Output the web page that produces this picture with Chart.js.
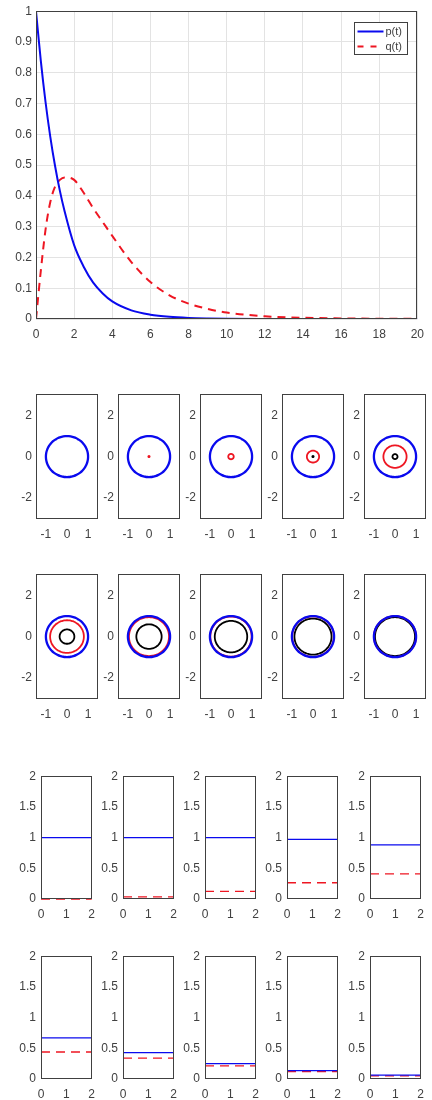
<!DOCTYPE html>
<html>
<head>
<meta charset="utf-8">
<script src="https://cdn.jsdelivr.net/npm/chart.js@4.4.0/dist/chart.umd.min.js"></script>
<style>
  html, body { margin: 0; padding: 0; background: #fff; }
  body { position: relative; width: 432px; height: 1100px; overflow: hidden; }
  canvas { position: absolute; }
</style>
</head>
<body>
<script>
// top plot: p(t) and q(t)
const tGrid   = [0, 0.25, 0.5, 0.75, 1, 1.25, 1.5, 2, 2.5, 3, 3.5, 4, 5, 6, 7, 8, 9, 10, 12, 14, 16, 18, 20];
const pValues = [1, 0.84, 0.705, 0.592, 0.497, 0.417, 0.35, 0.24, 0.17, 0.118, 0.083, 0.057, 0.028, 0.014, 0.007, 0.0035, 0.0018, 0.0009, 0.0002, 0, 0, 0, 0];
const qValues = [0, 0.155, 0.29, 0.38, 0.43, 0.452, 0.46, 0.452, 0.41, 0.36, 0.315, 0.27, 0.185, 0.12, 0.077, 0.05, 0.033, 0.021, 0.009, 0.004, 0.002, 0.001, 0.001];
const seriesNames = ['p(t)', 'q(t)'];
const topXTicks = [0, 2, 4, 6, 8, 10, 12, 14, 16, 18, 20];
const topYTicks = [0, 0.1, 0.2, 0.3, 0.4, 0.5, 0.6, 0.7, 0.8, 0.9, 1];

// ten snapshots: circle radii and level lines
const blueRadii  = [1, 1, 1, 1, 1, 1, 1, 1, 1, 1];
const redRadii   = [0, 0.03, 0.13, 0.29, 0.55, 0.8, 0.95, 0.98, 0.99, 1.0];
const blackRadii = [0, 0, 0, 0.03, 0.12, 0.35, 0.6, 0.77, 0.88, 0.95];
const sumLevels  = [1.0, 1.0, 1.0, 0.97, 0.88, 0.67, 0.43, 0.25, 0.135, 0.063];
const qLevels    = [0.0, 0.036, 0.125, 0.265, 0.41, 0.44, 0.34, 0.215, 0.12, 0.052];
const circleXTicks = [-1, 0, 1];
const circleYTicks = [-2, 0, 2];
const levelXTicks = [0, 1, 2];
const levelYTicks = [0, 0.5, 1, 1.5, 2];

const BLUE = '#0a0aee';
const RED = '#ee1622';
const INK = '#404040';

Chart.defaults.font.family = '"Liberation Sans", Arial, sans-serif';
Chart.defaults.font.size = 12;
Chart.defaults.color = INK;

const framePlugin = {
  id: 'frame',
  afterDraw(chart) {
    const { ctx, chartArea: a } = chart;
    ctx.save();
    ctx.strokeStyle = INK;
    ctx.lineWidth = 1;
    ctx.strokeRect(Math.round(a.left) + 0.5, Math.round(a.top) + 0.5,
      Math.round(a.right - a.left) - 1, Math.round(a.bottom - a.top) - 1);
    ctx.restore();
  }
};

const insetLegend = {
  id: 'insetLegend',
  afterDraw(chart) {
    const { ctx, chartArea: a } = chart;
    const w = 53, h = 32;
    const x = Math.round(a.right) - 10 - w + 0.5;
    const y = Math.round(a.top) + 11 + 0.5;
    ctx.save();
    ctx.fillStyle = '#fff';
    ctx.fillRect(x, y, w, h);
    ctx.strokeStyle = INK;
    ctx.lineWidth = 1;
    ctx.strokeRect(x, y, w, h);
    chart.data.datasets.forEach((ds, i) => {
      const ly = y + 9 + i * 15;
      ctx.beginPath();
      ctx.strokeStyle = ds.borderColor;
      ctx.lineWidth = 2;
      ctx.setLineDash(i === 0 ? [] : [6, 7]);
      ctx.moveTo(x + 3, ly);
      ctx.lineTo(x + 29, ly);
      ctx.stroke();
      ctx.setLineDash([]);
      ctx.fillStyle = INK;
      ctx.font = '11px "Liberation Sans", Arial, sans-serif';
      ctx.textBaseline = 'middle';
      ctx.fillText(ds.label, x + 31, ly);
    });
    ctx.restore();
  }
};

function axis(min, max, ticks, size, pad, grid, isX) {
  return {
    type: 'linear',
    min, max,
    afterBuildTicks: (s) => { s.ticks = ticks.map((v) => ({ value: v })); },
    afterFit: (s) => { if (isX) s.height = size; else s.width = size; },
    grid: { display: grid, color: '#e3e3e3', drawTicks: false },
    border: { display: false },
    ticks: { padding: pad, autoSkip: false, maxRotation: 0, callback: (v) => String(v) }
  };
}

function makeChart(box, pad, datasets, scales, plugins) {
  const canvas = document.createElement('canvas');
  const w = pad.l + box.width + pad.r;
  const h = pad.t + box.height + pad.b;
  canvas.width = w;
  canvas.height = h;
  canvas.style.left = (box.left - pad.l) + 'px';
  canvas.style.top = (box.top - pad.t) + 'px';
  canvas.style.width = w + 'px';
  canvas.style.height = h + 'px';
  document.body.appendChild(canvas);
  return new Chart(canvas, {
    type: 'scatter',
    data: { datasets },
    options: {
      responsive: false,
      animation: false,
      devicePixelRatio: 1,
      layout: { padding: { top: pad.t, right: pad.r, left: 0, bottom: 0 } },
      plugins: { legend: { display: false }, tooltip: { enabled: false } },
      elements: { point: { radius: 0 } },
      scales
    },
    plugins: [framePlugin].concat(plugins || [])
  });
}

function ring(r) {
  const pts = [];
  for (let k = 0; k <= 72; k++) {
    const ang = (k / 72) * 2 * Math.PI;
    pts.push({ x: r * Math.cos(ang), y: r * Math.sin(ang) });
  }
  return pts;
}

// top chart
makeChart(
  { left: 36, top: 11, width: 389, height: 308 },
  { l: 36, t: 11, r: 7, b: 26 },
  [
    {
      label: seriesNames[0],
      data: tGrid.map((t, i) => ({ x: t, y: pValues[i] })),
      showLine: true, borderColor: BLUE, borderWidth: 2,
      cubicInterpolationMode: 'monotone', pointRadius: 0
    },
    {
      label: seriesNames[1],
      data: tGrid.map((t, i) => ({ x: t, y: qValues[i] })),
      showLine: true, borderColor: RED, borderWidth: 2, borderDash: [8, 6],
      cubicInterpolationMode: 'monotone', pointRadius: 0
    }
  ],
  {
    x: axis(0, 20, topXTicks, 26, 8, true, true),
    y: axis(0, 1, topYTicks, 36, 4, true, false)
  },
  [insetLegend]
);

// circle snapshots
const circleLefts = [36, 118, 200, 282, 364];
const circleTops = [391, 571];
for (let k = 0; k < 10; k++) {
  const sets = [];
  [[blueRadii[k], BLUE, 2.3], [redRadii[k], RED, 1.8], [blackRadii[k], '#000', 1.8]].forEach(([r, col, lw]) => {
    if (r > 0) {
      sets.push({
        data: ring(r), showLine: true, borderColor: col, borderWidth: lw,
        tension: 0.3, pointRadius: 0, borderCapStyle: 'round'
      });
    }
  });
  makeChart(
    { left: circleLefts[k % 5], top: circleTops[Math.floor(k / 5)], width: 62, height: 128 },
    { l: 24, t: 8, r: 6, b: 24 },
    sets,
    {
      x: axis(-1.47, 1.47, circleXTicks, 24, 8, false, true),
      y: axis(-3.05, 3.05, circleYTicks, 24, 4, false, false)
    }
  );
}

// level snapshots
const levelLefts = [41, 123, 205, 287, 370];
const levelTops = [772, 952];
for (let k = 0; k < 10; k++) {
  makeChart(
    { left: levelLefts[k % 5], top: levelTops[Math.floor(k / 5)], width: 56, height: 127 },
    { l: 28, t: 8, r: 6, b: 24 },
    [
      {
        data: [{ x: 0, y: sumLevels[k] }, { x: 2, y: sumLevels[k] }],
        showLine: true, borderColor: BLUE, borderWidth: 1.3, pointRadius: 0, clip: 4
      },
      {
        data: [{ x: 0, y: qLevels[k] }, { x: 2, y: qLevels[k] }],
        showLine: true, borderColor: RED, borderWidth: 1.3, borderDash: [9, 6], pointRadius: 0, clip: 4
      }
    ],
    {
      x: axis(0, 2, levelXTicks, 24, 8, false, true),
      y: axis(0, 2, levelYTicks, 28, 5, false, false)
    }
  );
}
</script>
</body>
</html>
